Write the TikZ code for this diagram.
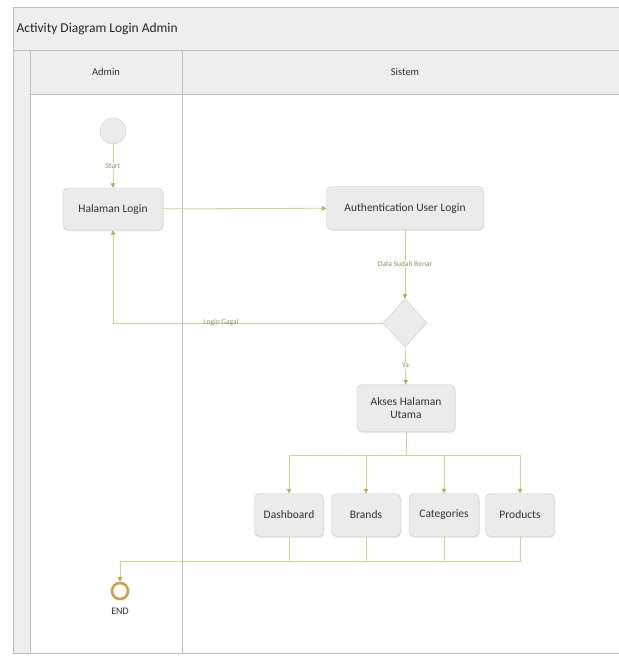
\documentclass[tikz,border=0pt]{standalone}
\usepackage{fontspec}
\setmainfont{Carlito}
\usetikzlibrary{arrows.meta,shapes.geometric,shadows,positioning}

\definecolor{flow}{HTML}{D6D08E}
\definecolor{tipc}{HTML}{B3AB5C}
\definecolor{lbl}{HTML}{8E8B5E}
\definecolor{boxfill}{HTML}{EBEBEB}
\definecolor{boxline}{HTML}{C9C9C9}
\definecolor{band}{HTML}{EEEEEE}
\definecolor{frame}{HTML}{BDBDBD}
\definecolor{endring}{HTML}{D49E4C}

\begin{document}
\begin{tikzpicture}[x=1pt,y=-1pt,
  act/.style={draw=boxline,fill=boxfill,rounded corners=5pt,align=center,
    font=\fontsize{11.5}{13}\selectfont,text=black!80,
    drop shadow={opacity=0.18,shadow xshift=0.8pt,shadow yshift=-1.4pt}},
  flowline/.style={draw=flow,line width=0.8pt},
  flowarrow/.style={flowline,-{Triangle[width=4.5pt,length=4.5pt,color=tipc]}},
  guard/.style={font=\fontsize{7.5}{8.5}\selectfont,text=lbl,fill=white,inner sep=1pt}]

\useasboundingbox (0,0) rectangle (619,657);

% swimlane frame
\fill[band] (13,7) rectangle (619,50);
\fill[band] (13,50) rectangle (30,653);
\fill[band] (30,50) rectangle (619,94);
\draw[frame] (619,7) -- (13,7) -- (13,653) -- (619,653);
\draw[frame] (13,50) -- (619,50);
\draw[frame] (30,94) -- (619,94);
\draw[frame] (30,50) -- (30,653);
\draw[frame,line width=0.9pt] (182,50) -- (182,653);

\node[anchor=west,font=\fontsize{13.5}{15}\selectfont,text=black!85] (title) at (13,29) {Activity Diagram Login Admin};
\node[font=\fontsize{10.5}{12}\selectfont,text=black!80] (admin) at (106,72) {Admin};
\node[font=\fontsize{10.5}{12}\selectfont,text=black!80] (sistem) at (405,72) {Sistem};

% nodes
\node[circle,draw=boxline,fill=boxfill,minimum size=26pt,inner sep=0pt] (start) at (113,131) {};
\node[act,minimum width=100pt,minimum height=42pt] (login) at (113,209) {Halaman Login};
\node[act,minimum width=157pt,minimum height=43pt] (auth) at (405,208) {Authentication User Login};
\node[diamond,draw=boxline,fill=boxfill,minimum width=44pt,minimum height=48pt,inner sep=0pt] (cek) at (405,323) {};
\node[act,minimum width=98pt,minimum height=47pt] (akses) at (406,408) {Akses Halaman\\Utama};

\node[act,minimum width=69pt,minimum height=43pt] (dash) at (289,515) {Dashboard};
\node[act,minimum width=69pt,minimum height=43pt] (brand) at (366,515) {Brands};
\node[act,minimum width=70pt,minimum height=43pt] (cat) at (444,515) {Categories};
\node[act,minimum width=69pt,minimum height=43pt] (prod) at (520,515) {Products};

\node[circle,draw=endring,line width=2.6pt,fill=white,minimum size=16pt,inner sep=0pt] (end) at (120,591) {};
\node[below=4pt of end,font=\fontsize{10}{11}\selectfont,text=black!80] (endlbl) {END};

\coordinate (fork) at (406,455);
\coordinate (join) at (120,561);

% connectors
\draw[flowarrow] (start) -- node[guard]{Start} (login);
\draw[flowarrow] (login) -- (auth);
\draw[flowarrow] (auth) -- node[guard]{Data Sudah Benar} (cek);
\draw[flowarrow] (cek.west) -| node[guard,fill=none,pos=0.3]{Login Gagal} (login);
\draw[flowarrow] (cek) -- node[guard]{Ya} (akses);
\draw[flowline] (akses) -- (fork);
\foreach \b in {dash,brand,cat,prod}
  \draw[flowarrow] (fork) -| (\b);
\foreach \b in {dash,brand,cat,prod}
  \draw[flowline] (\b) |- (join);
\draw[flowarrow] (join) -- (end);

\end{tikzpicture}
\end{document}
